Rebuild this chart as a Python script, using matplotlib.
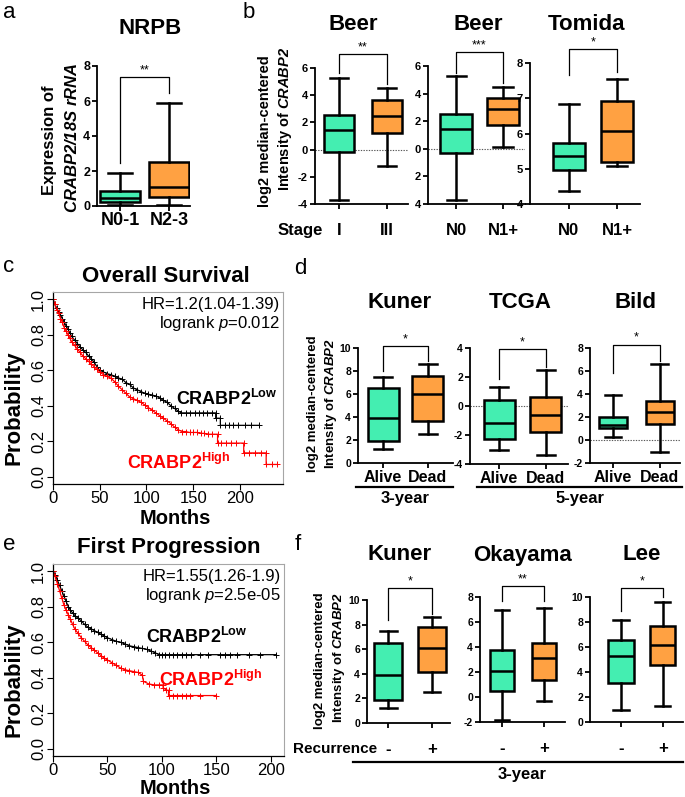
import numpy as np
import matplotlib.pyplot as plt

plt.rcParams['font.family'] = 'Liberation Sans'
plt.rcParams['mathtext.fontset'] = 'custom'
plt.rcParams['mathtext.rm'] = 'Liberation Sans'
plt.rcParams['mathtext.it'] = 'Liberation Sans:italic'
plt.rcParams['mathtext.bf'] = 'Liberation Sans:bold'
plt.rcParams['mathtext.bfit'] = 'Liberation Sans:italic:bold'

W, H = 685, 797
GREEN = '#44eeb1'
ORANGE = '#ffa142'

# ---------------- data ----------------
# box stats per group: whisker low, q1, median, q3, whisker high
a_labels = ['N0-1', 'N2-3']
a_stats = [[0.05, 0.25, 0.45, 0.87, 1.87], [0.05, 0.5, 1.1, 2.53, 5.87]]

b1_labels = ['I', 'III']
b1_stats = [[-3.7, -0.2, 1.45, 2.55, 5.3], [-1.2, 1.2, 2.5, 3.65, 4.5]]
b2_labels = ['N0', 'N1+']
b2_stats = [[-3.7, -0.3, 1.45, 2.5, 5.3], [0.1, 1.7, 2.9, 3.7, 4.5]]
b3_labels = ['N0', 'N1+']
b3_stats = [[4.38, 4.97, 5.35, 5.72, 6.85], [5.08, 5.2, 6.08, 6.92, 7.55]]

d_labels = ['Alive', 'Dead']
d1_stats = [[1.2, 1.9, 3.9, 6.5, 7.5], [2.5, 3.65, 6.0, 7.6, 8.6]]
d2_stats = [[-3.0, -2.25, -1.15, 0.4, 1.3], [-3.35, -1.8, -0.6, 0.6, 2.5]]
d3_stats = [[0.3, 1.0, 1.3, 2.0, 3.95], [-1.05, 1.4, 2.4, 3.35, 6.65]]

f_labels = ['-', '+']
f1_stats = [[1.2, 1.9, 3.9, 6.5, 7.5], [2.5, 4.15, 6.1, 7.8, 8.65]]
f2_stats = [[-1.8, 0.45, 2.05, 3.75, 6.95], [-0.35, 1.35, 3.15, 4.35, 7.15]]
f3_stats = [[0.95, 3.1, 5.25, 6.6, 8.2], [1.25, 4.6, 6.2, 7.65, 9.6]]

# Kaplan-Meier curves (months, survival probability)
os_low_t = [0, 2, 4, 6, 8, 10, 12, 14, 16, 18, 20,
            23, 26, 29, 32, 35, 38, 41, 44, 47,
            50, 54, 58, 62, 66, 70, 74, 78, 82, 86, 90, 94, 98, 102, 106, 110,
            114, 118, 122, 126, 130, 134,
            137, 142, 147, 152, 156, 160, 165, 170, 174, 174, 179, 179, 184,
            188, 192, 198, 205, 212, 220]
os_low_p = [1.0, 0.97, 0.95, 0.93, 0.91, 0.89, 0.87, 0.85, 0.83, 0.81, 0.79,
            0.77, 0.75, 0.73, 0.715, 0.70, 0.68, 0.665, 0.645, 0.62,
            0.60, 0.59, 0.58, 0.575, 0.565, 0.556, 0.55, 0.53, 0.52, 0.50, 0.49,
            0.48, 0.47, 0.465, 0.46, 0.455, 0.445, 0.43, 0.42, 0.40, 0.385, 0.37,
            0.36, 0.36, 0.36, 0.36, 0.36, 0.36, 0.36, 0.36, 0.36, 0.33, 0.33,
            0.29, 0.29, 0.29, 0.29, 0.29, 0.29, 0.29, 0.29]
os_high_t = [0, 2, 4, 6, 8, 10, 12, 14, 16, 18, 20,
             23, 26, 29, 32, 35, 38, 41, 44, 47,
             50, 54, 58, 62, 66, 70, 74, 78, 82, 86, 90, 94, 98, 102, 106, 110,
             114, 118, 122, 126, 130, 134,
             138, 142, 146, 150, 154, 158, 162, 166, 170,
             176, 176, 180, 185, 190, 196, 204, 204, 210, 216, 222, 228, 228,
             234, 240]
os_high_p = [1.0, 0.97, 0.94, 0.92, 0.89, 0.87, 0.84, 0.82, 0.80, 0.78, 0.76,
             0.74, 0.72, 0.70, 0.68, 0.665, 0.65, 0.635, 0.62, 0.605,
             0.59, 0.575, 0.565, 0.555, 0.535, 0.51, 0.49, 0.47, 0.45, 0.44,
             0.43, 0.42, 0.405, 0.39, 0.375, 0.36, 0.345, 0.33, 0.315, 0.30,
             0.28, 0.265,
             0.255, 0.255, 0.25, 0.25, 0.25, 0.245, 0.245, 0.24, 0.24,
             0.24, 0.19, 0.19, 0.19, 0.19, 0.19, 0.19, 0.135, 0.135, 0.135,
             0.135, 0.135, 0.07, 0.07, 0.07]

fp_low_t = [0, 2, 4, 6, 8, 10, 12, 14, 16, 18, 20,
            23, 26, 29, 32, 35, 38, 41, 44, 47,
            50, 54, 58, 62, 66, 70, 74, 78, 82, 86, 90, 94,
            97, 100, 103, 106, 110, 114, 118, 122, 127, 135, 142, 153, 158,
            162, 169, 180, 190, 205]
fp_low_p = [1.0, 0.98, 0.95, 0.92, 0.89, 0.86, 0.83, 0.80, 0.78, 0.765, 0.75,
            0.735, 0.72, 0.70, 0.685, 0.675, 0.665, 0.655, 0.645, 0.635,
            0.625, 0.615, 0.605, 0.60, 0.59, 0.58, 0.575, 0.57, 0.565, 0.56,
            0.55, 0.54,
            0.53, 0.53, 0.53, 0.53, 0.53, 0.53, 0.53, 0.53, 0.53, 0.53, 0.53,
            0.53, 0.53, 0.53, 0.53, 0.53, 0.53, 0.53]
fp_high_t = [0, 2, 4, 6, 8, 10, 12, 14, 16, 18, 20,
             23, 26, 29, 32, 35, 38, 41, 44, 47,
             50, 54, 58, 62, 66, 70, 74, 78, 82,
             83, 88, 93, 97, 101, 101, 104, 106, 106, 110, 114, 118, 122, 126,
             135, 150]
fp_high_p = [1.0, 0.97, 0.93, 0.89, 0.85, 0.81, 0.78, 0.755, 0.73, 0.70, 0.675,
             0.65, 0.625, 0.605, 0.585, 0.57, 0.555, 0.54, 0.525, 0.51,
             0.50, 0.485, 0.47, 0.455, 0.445, 0.44, 0.435, 0.43, 0.415,
             0.38, 0.365, 0.36, 0.36, 0.36, 0.345, 0.33, 0.33, 0.30, 0.30, 0.30,
             0.30, 0.30, 0.30, 0.30, 0.30]

fig = plt.figure(figsize=(W / 100, H / 100), dpi=100)


def px_ax(x0, x1, ytop, ybot):
    return fig.add_axes([x0 / W, 1 - ybot / H, (x1 - x0) / W, (ybot - ytop) / H])


def ftext(x, y, s, **kw):
    kw.setdefault('ha', 'center')
    kw.setdefault('va', 'center')
    return fig.text(x / W, 1 - y / H, s, **kw)


def fline(x0, x1, y, lw=1.6):
    fig.add_artist(plt.Line2D([x0 / W, x1 / W], [1 - y / H, 1 - y / H],
                              color='black', lw=lw))


def box_panel(rect, ylim, yticks, stats, xlim, width, xlabels, lab_fs, lab_pad,
              tick_fs, bracket, stars, zero=False, yticklabels=None):
    ax = px_ax(*rect)
    bx = [dict(whislo=s[0], q1=s[1], med=s[2], q3=s[3], whishi=s[4], fliers=[])
          for s in stats]
    art = ax.bxp(bx, positions=[1, 2], widths=width, patch_artist=True,
                 showfliers=False, capwidths=width * 0.6,
                 boxprops=dict(linewidth=1.8, edgecolor='black'),
                 medianprops=dict(color='black', linewidth=1.8),
                 whiskerprops=dict(linewidth=1.8), capprops=dict(linewidth=1.8))
    for patch, c in zip(art['boxes'], [GREEN, ORANGE]):
        patch.set_facecolor(c)
    if zero:
        ax.axhline(0, color='0.35', lw=0.8, ls=(0, (1.2, 1.2)), zorder=0)
    ax.set_xlim(*xlim)
    ax.set_ylim(*ylim)
    ax.set_yticks(yticks)
    ax.set_yticklabels(yticklabels if yticklabels else [str(v) for v in yticks],
                       fontsize=tick_fs, fontweight='bold')
    ax.set_xticks([1, 2])
    ax.set_xticklabels(xlabels, fontsize=lab_fs, fontweight='bold')
    for s in ['top', 'right']:
        ax.spines[s].set_visible(False)
    for s in ['left', 'bottom']:
        ax.spines[s].set_linewidth(1.3)
    ax.tick_params(axis='y', width=1.3, length=3.5, pad=1.5)
    ax.tick_params(axis='x', width=1.3, length=3.5, pad=lab_pad)
    yb, l1, l2 = bracket
    ax.plot([1, 1, 2, 2], [l1, yb, yb, l2], color='black', lw=0.9, clip_on=False)
    ax.annotate(stars, (1.5, yb), xytext=(0, 0.5), textcoords='offset points',
                ha='center', va='bottom', fontsize=9, annotation_clip=False)
    ax.patch.set_visible(False)
    return ax


def km_panel(rect, xlim, curves, hr, pval, low_xy, high_xy):
    ax = px_ax(*rect)
    for t, p, col in curves:
        ax.plot(t, p, color=col, lw=0.9, marker='+', ms=4.5, mew=0.7)
    ax.set_xlim(*xlim)
    ax.set_ylim(-0.04, 1.04)
    ax.set_xticks([0, 50, 100, 150, 200])
    ax.set_xticklabels(['0', '50', '100', '150', '200'], fontsize=12)
    ax.set_yticks([0, 0.2, 0.4, 0.6, 0.8, 1.0])
    ax.set_yticklabels(['0.0', '0.2', '0.4', '0.6', '0.8', '1.0'], fontsize=12,
                       rotation=90, va='center')
    for s in ['top', 'right']:
        ax.spines[s].set_color('0.65')
    for s in ['left', 'bottom']:
        ax.spines[s].set_color('black')
        ax.spines[s].set_linewidth(0.9)
    ax.tick_params(length=4, width=0.8, pad=1)
    ax.text(0.985, 0.975, hr, transform=ax.transAxes, ha='right', va='top',
            fontsize=12)
    ax.text(0.985, 0.885, 'logrank $\\mathit{p}$=' + pval, transform=ax.transAxes,
            ha='right', va='top', fontsize=12)
    ax.text(low_xy[0], low_xy[1], 'CRABP2$^{\\mathbf{Low}}$', ha='right',
            va='center', fontsize=13, fontweight='bold', color='black')
    ax.text(high_xy[0], high_xy[1], 'CRABP2$^{\\mathbf{High}}$', ha='right',
            va='center', fontsize=13, fontweight='bold', color='red')
    return ax


YL1 = 'log2 median-centered'
YL2 = 'Intensity of $\\mathbfit{CRABP2}$'

# ---------------- panel a ----------------
box_panel((97, 190, 66, 206), (0, 8), [0, 2, 4, 6, 8], a_stats, (0.53, 2.43), 0.8,
          a_labels, 13, 0.5, 9, (7.35, 2.45, 6.45), '**')
ftext(150, 28, 'NRPB', fontsize=16, fontweight='bold')
ftext(50, 140, 'Expression of', rotation=90, fontsize=12, fontweight='bold')
ftext(72, 138, '$\\mathbfit{CRABP2/18S\\ rRNA}$', rotation=90, fontsize=12)

# ---------------- panel b ----------------
box_panel((315, 408, 68, 204), (-4, 6), [-4, -2, 0, 2, 4, 6], b1_stats,
          (0.5, 2.44), 0.63, b1_labels, 12, 10, 8, (7.0, 5.6, 4.8), '**', zero=True)
box_panel((428, 525, 66, 204), (-4, 6), [-4, -2, 0, 2, 4, 6], b2_stats,
          (0.40, 2.47), 0.68, b2_labels, 12, 10, 8, (7.0, 5.5, 4.8), '***',
          zero=True, yticklabels=['4', '2', '0', '2', '4', '6'])
box_panel((530, 640, 63, 204), (4, 8), [4, 5, 6, 7, 8], b3_stats,
          (0.19, 2.48), 0.67, b3_labels, 12, 10, 8, (8.4, 7.65, 7.75), '*')
ftext(353, 25, 'Beer', fontsize=16, fontweight='bold')
ftext(478, 25, 'Beer', fontsize=16, fontweight='bold')
ftext(587, 25, 'Tomida', fontsize=16, fontweight='bold')
ftext(300, 230, 'Stage', fontsize=12, fontweight='bold')
ftext(265, 131, YL1, rotation=90, fontsize=10.5, fontweight='bold')
ftext(285, 119, YL2, rotation=90, fontsize=10.5, fontweight='bold')

# ---------------- panel c ----------------
km_panel((53, 283, 292, 484), (0, 246),
         [(os_low_t, os_low_p, 'black'), (os_high_t, os_high_p, 'red')],
         'HR=1.2(1.04-1.39)', '0.012', (240, 0.44), (190, 0.08))
ftext(166, 276, 'Overall Survival', fontsize=16, fontweight='bold')
ftext(175, 519, 'Months', fontsize=14.5, fontweight='bold')
ftext(14, 408, 'Probability', rotation=90, fontsize=16, fontweight='bold')

# ---------------- panel d ----------------
box_panel((358, 453, 348, 463), (0, 10), [0, 2, 4, 6, 8, 10], d1_stats,
          (0.44, 2.56), 0.69, d_labels, 11.5, 1.5, 7.5, (10.2, 8.0, 8.9), '*')
box_panel((470, 568, 348, 464), (-4, 4), [-4, -2, 0, 2, 4], d2_stats,
          (0.38, 2.47), 0.66, d_labels, 11.5, 1.5, 7.5, (3.9, 1.85, 2.7), '*',
          zero=True)
box_panel((590, 680, 348, 463), (-2, 8), [-2, 0, 2, 4, 6, 8], d3_stats,
          (0.51, 2.43), 0.6, d_labels, 11.5, 1.5, 7.5, (8.3, 5.8, 6.9), '*',
          zero=True)
ftext(400, 303, 'Kuner', fontsize=16, fontweight='bold')
ftext(520, 303, 'TCGA', fontsize=16, fontweight='bold')
ftext(635, 303, 'Bild', fontsize=16, fontweight='bold')
ftext(313, 404, YL1, rotation=90, fontsize=9.5, fontweight='bold')
ftext(331, 404, YL2, rotation=90, fontsize=9.5, fontweight='bold')
fline(356, 453, 487)
fline(477, 682, 487)
ftext(405, 499, '3-year', fontsize=12, fontweight='bold')
ftext(580, 499, '5-year', fontsize=12, fontweight='bold')

# ---------------- panel e ----------------
km_panel((53, 284, 564, 756), (0, 212),
         [(fp_low_t, fp_low_p, 'black'), (fp_high_t, fp_high_p, 'red')],
         'HR=1.55(1.26-1.9)', '2.5e-05', (178, 0.63), (192, 0.39))
ftext(169, 548, 'First Progression', fontsize=16, fontweight='bold')
ftext(175, 788, 'Months', fontsize=14.5, fontweight='bold')
ftext(14, 680, 'Probability', rotation=90, fontsize=16, fontweight='bold')

# ---------------- panel f ----------------
box_panel((367, 450, 600, 723), (0, 10), [0, 2, 4, 6, 8, 10], f1_stats,
          (0.52, 2.41), 0.64, f_labels, 12, 10, 7.5, (11.0, 8.4, 8.9), '*')
box_panel((480, 565, 597, 722), (-2, 8), [-2, 0, 2, 4, 6, 8], f2_stats,
          (0.48, 2.5), 0.57, f_labels, 12, 10, 7.5, (8.85, 7.65, 7.65), '**')
box_panel((590, 683, 597, 722), (0, 10), [0, 2, 4, 6, 8, 10], f3_stats,
          (0.26, 2.48), 0.6, f_labels, 12, 10, 7.5, (10.7, 8.9, 10.0), '*')
ftext(400, 555, 'Kuner', fontsize=16, fontweight='bold')
ftext(523, 555, 'Okayama', fontsize=16, fontweight='bold')
ftext(642, 555, 'Lee', fontsize=16, fontweight='bold')
ftext(320, 661, YL1, rotation=90, fontsize=9.5, fontweight='bold')
ftext(339, 658, YL2, rotation=90, fontsize=9.5, fontweight='bold')
ftext(335, 749, 'Recurrence', fontsize=11, fontweight='bold')
fline(353, 683, 762)
ftext(522, 774, '3-year', fontsize=12, fontweight='bold')

# panel letters
for lx, ly, s in [(9, 13, 'a'), (249, 13, 'b'), (9, 266, 'c'), (300, 268, 'd'),
                  (9, 545, 'e'), (298, 545, 'f')]:
    ftext(lx, ly, s, fontsize=16)

fig.savefig('out.png', dpi=100)
